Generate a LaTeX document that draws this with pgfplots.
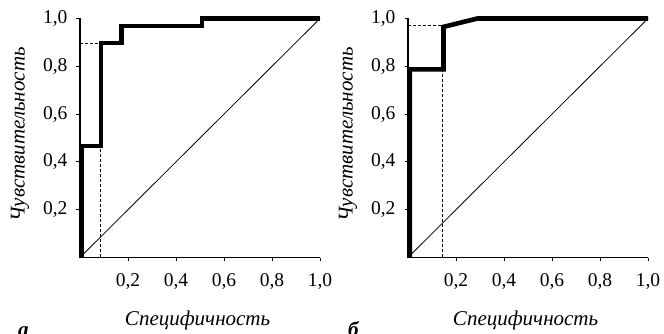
\documentclass[border=0pt]{standalone}
\usepackage{fontspec}
\setmainfont{Liberation Serif}
\usepackage{pgfplots}
\pgfplotsset{compat=1.18}
\newcommand{\bigfont}{\fontsize{19.5bp}{23bp}\selectfont}
\newcommand{\labfont}{\fontsize{21bp}{24bp}\selectfont\itshape}
\pgfplotsset{
  roc/.style={
    scale only axis, width=240bp, height=239bp,
    anchor=south west,
    xmin=0, xmax=1, ymin=0, ymax=1,
    axis x line*=bottom, axis y line*=left,
    axis line style={line width=1.3bp},
    xtick={0.2,0.4,0.6,0.8,1}, xticklabels={{0,2},{0,4},{0,6},{0,8},{1,0}},
    ytick={0.2,0.4,0.6,0.8,1}, yticklabels={{0,2},{0,4},{0,6},{0,8},{1,0}},
    tick align=outside, major tick length=3.5bp,
    tick style={line width=1bp, black},
    tick label style={font=\bigfont},
    xticklabel style={yshift=-9bp},
    yticklabel style={xshift=-5.5bp},
    xlabel={Специфичность}, ylabel={Чувствительность},
    every axis x label/.style={at={(axis description cs:0.49,-0.285)}, anchor=base, font=\labfont},
    every axis y label/.style={at={(axis description cs:-0.25,0.515)}, rotate=90, anchor=center, font=\labfont},
    clip=false,
  },
  curve/.style={black, line width=4.6bp, line join=miter, line cap=butt},
  diag/.style={black, line width=0.8bp},
  guide/.style={black, line width=0.8bp, dash pattern=on 3bp off 2bp},
}
\begin{document}
\begin{tikzpicture}[font=\bigfont]
\useasboundingbox (0,0) rectangle (664bp,334bp);
\begin{axis}[roc, at={(80bp,76.5bp)}]
  \addplot[guide] coordinates {(0,0.897) (0.085,0.897)};
  \addplot[guide] coordinates {(0.083,0) (0.083,0.466)};
  \addplot[diag] coordinates {(0,0) (1,1)};
  \addplot[curve] coordinates {(0.008,0) (0.008,0.466) (0.087,0.466) (0.087,0.897) (0.172,0.897) (0.172,0.968) (0.508,0.968) (0.508,1) (1,1)};
\end{axis}
\begin{axis}[roc, at={(408bp,76.5bp)}]
  \addplot[guide] coordinates {(0,0.972) (0.148,0.972)};
  \addplot[guide] coordinates {(0.145,0) (0.145,0.787)};
  \addplot[diag] coordinates {(0,0) (1,1)};
  \addplot[curve] coordinates {(0.008,0) (0.008,0.787) (0.148,0.787) (0.148,0.965) (0.289,1) (1,1)};
\end{axis}
\node[anchor=base west, inner sep=0pt, font=\labfont\bfseries] at (18bp,-2bp) {а};
\node[anchor=base west, inner sep=0pt, font=\labfont\bfseries] at (348bp,-2bp) {б};
\end{tikzpicture}
\end{document}
